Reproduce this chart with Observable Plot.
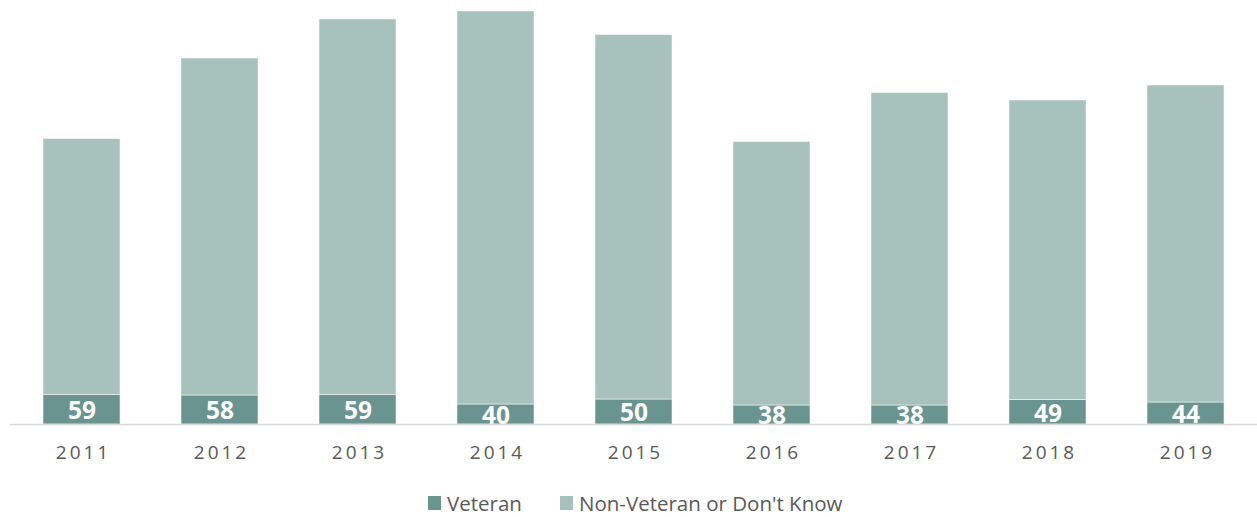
<!DOCTYPE html>
<html>
<head>
<meta charset="utf-8">
<script src="https://cdn.jsdelivr.net/npm/d3@7"></script>
<script src="https://cdn.jsdelivr.net/npm/@observablehq/plot@0.6"></script>
<style>
  html, body { margin: 0; padding: 0; background: #fff; }
  #chart { width: 1257px; }
  .legend { position: relative; height: 47px; font-family: "Open Sans", sans-serif; font-size: 20.5px; color: #595959; }
  .legend .item { position: absolute; top: 19px; display: flex; align-items: center; }
  .legend .sw { width: 13px; height: 14px; margin-right: 6px; }
</style>
</head>
<body>
<div id="chart"></div>
<script>
const years = ["2011","2012","2013","2014","2015","2016","2017","2018","2019"];
const veteran = [59, 58, 59, 40, 50, 38, 38, 49, 44];
const nonVeteran = [512, 674, 751, 786, 729, 527, 625, 599, 634];
const seriesNames = ["Veteran", "Non-Veteran or Don't Know"];
const seriesColors = ["#6a9490", "#a7c1bd"];

const rows = [];
years.forEach((y, i) => rows.push({year: y, series: seriesNames[0], value: veteran[i]}));
years.forEach((y, i) => rows.push({year: y, series: seriesNames[1], value: nonVeteran[i]}));
const vetRows = years.map((y, i) => ({year: y, value: veteran[i]}));

const plot = Plot.plot({
  width: 1257,
  height: 470,
  marginLeft: 10,
  marginRight: 0,
  marginTop: 0,
  marginBottom: 46,
  style: {fontFamily: "'Open Sans', sans-serif", background: "white"},
  x: {domain: years, paddingInner: 0.444, paddingOuter: 0.222, label: null},
  y: {domain: [0, 848], axis: null},
  color: {domain: seriesNames, range: seriesColors},
  marks: [
    Plot.barY(rows, {x: "year", y: "value", fill: "series", stroke: "#ffffff", strokeWidth: 1, strokeOpacity: 0.5}),
    Plot.text(vetRows, {x: "year", y: d => d.value / 2, text: d => String(d.value), fill: "white", fontWeight: "bold", fontSize: 24.5, dy: 1.5, lineAnchor: "middle"}),
    Plot.ruleY([0], {stroke: "#d9d9d9", strokeWidth: 1.5}),
    Plot.axisX({tickSize: 0, tickPadding: 21, fontSize: 19, fill: "#595959", dx: 1.5})
  ]
});
plot.querySelectorAll("g[aria-label='x-axis tick label'] text").forEach(t => t.setAttribute("letter-spacing", "3px"));
document.getElementById("chart").appendChild(plot);

const legend = document.createElement("div");
legend.className = "legend";
const lefts = [428, 560];
seriesNames.forEach((name, i) => {
  const item = document.createElement("div");
  item.className = "item";
  item.style.left = lefts[i] + "px";
  const sw = document.createElement("span");
  sw.className = "sw";
  sw.style.background = seriesColors[i];
  const tx = document.createElement("span");
  tx.textContent = name;
  item.appendChild(sw);
  item.appendChild(tx);
  legend.appendChild(item);
});
document.getElementById("chart").appendChild(legend);
</script>
</body>
</html>
